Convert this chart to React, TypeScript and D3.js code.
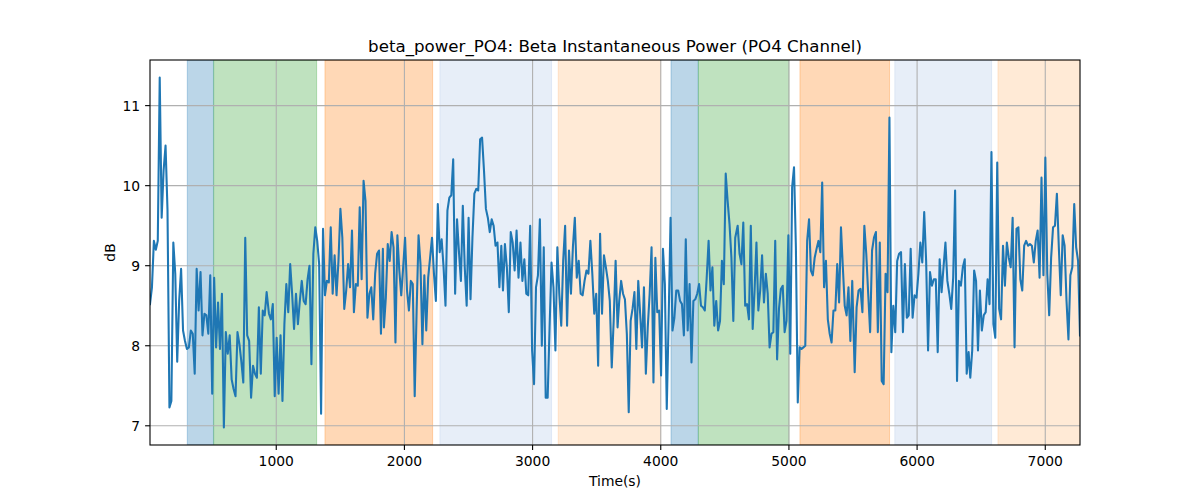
import React from 'react';
import * as d3 from 'd3';

// beta power readings (dB), one array per stretch of the recording
const seg1 = [8.52, 8.73, 9.31, 9.2, 9.31, 11.35, 9.6, 10.19, 10.5, 9.7, 7.23, 7.31, 9.29, 8.9, 7.8, 8.56, 8.96, 8.19, 8.06, 7.96, 7.98, 8.19, 8.15, 7.65, 8.96, 8.44, 8.92, 8.13, 8.4, 8.38, 8.15, 8.88, 7.4, 8.85, 7.98, 8.54, 7.96, 8.65, 6.98, 8.17, 7.9, 8.13, 7.58, 7.46, 7.37, 8.17, 8.02, 7.8, 7.54, 9.35, 8.13, 8.06, 7.35, 7.75, 7.65, 7.6, 8.48, 7.65, 8.44, 8.38, 8.67];
const seg2 = [8.4, 8.33, 8.52, 7.37, 8.1, 7.4, 8.13, 7.31, 8.27, 8.77, 8.42, 9.02, 8.65, 8.21, 8.65, 8.27, 8.56, 8.81, 8.56, 8.52, 8.83, 9.0, 7.77, 9.15, 9.48, 9.31, 9.02, 7.15, 9.46, 8.63, 8.81, 8.79, 9.48, 8.65, 9.13, 8.63, 9.06, 9.71, 9.35, 8.46, 8.69, 9.02, 8.73, 9.44, 8.42, 8.77, 8.75, 9.73, 8.83, 10.06, 9.81, 8.35, 8.65, 8.73, 8.33, 8.9, 9.15, 9.19, 8.15, 9.21];
const seg3 = [8.23, 8.6, 9.27, 9.06, 9.42, 9.23, 8.04, 9.38, 8.94, 8.63, 8.98, 9.35, 8.69, 8.44, 8.81, 8.77, 7.37, 8.44, 9.38, 9.02, 8.02, 8.88, 8.19, 8.85, 9.1, 9.35, 8.9, 8.56, 9.77, 9.17, 9.33, 8.98, 8.5, 9.69, 9.85, 9.88, 10.33, 8.65, 9.58, 9.17, 8.81, 9.75, 8.98, 8.5, 9.6, 8.58, 9.35, 9.9, 9.96, 9.94, 10.58, 10.6, 10.19, 9.71, 9.6, 9.42, 9.58, 9.5, 9.25, 9.29, 8.73, 9.25];
const seg4 = [8.69, 9.27, 8.98, 8.42, 9.42, 9.29, 8.94, 9.44, 8.85, 9.29, 8.81, 9.08, 8.65, 8.63, 9.5, 7.94, 7.52, 8.73, 8.88, 9.58, 8.0, 9.23, 7.35, 7.35, 8.23, 9.04, 8.73, 7.94, 9.23, 8.65, 8.25, 9.06, 9.5, 8.25, 9.19, 8.65, 9.23, 9.6, 8.85, 9.06, 8.65, 8.63, 8.81, 8.94, 8.9, 9.31, 8.9, 8.4, 8.65, 7.75, 9.4, 8.4, 9.13, 8.98, 8.81, 8.56, 7.73, 8.31, 9.06, 8.23];
const seg5 = [8.56, 8.81, 8.65, 8.58, 8.15, 7.17, 8.31, 8.46, 8.67, 7.96, 8.81, 8.4, 7.98, 8.73, 7.65, 8.23, 8.65, 9.23, 7.54, 9.1, 8.42, 8.44, 7.63, 9.21, 8.77, 7.21, 8.35, 9.6, 8.19, 8.35, 8.69, 8.69, 8.56, 8.52, 8.13, 9.33, 8.19, 8.77, 7.79, 8.56, 8.58, 8.65, 8.77, 8.5, 8.48, 8.44, 8.85, 9.31, 8.69, 8.98, 8.25, 8.56, 8.19, 8.31, 9.06, 8.77, 10.15, 9.81, 9.52, 9.1, 8.31, 9.35];
const seg6 = [9.5, 9.15, 9.02, 9.54, 8.5, 8.52, 8.33, 9.5, 8.21, 8.69, 9.29, 8.44, 8.69, 9.13, 8.54, 8.9, 8.65, 7.98, 8.15, 8.17, 9.31, 7.83, 8.46, 8.71, 8.75, 8.17, 8.31, 9.38, 7.9, 9.98, 10.23, 9.23, 7.29, 7.98, 7.96, 7.98, 8.0, 9.31, 9.58, 8.94, 8.88, 9.1, 9.21, 9.31, 9.17, 10.04, 8.73, 9.06, 8.33, 8.15, 8.04, 8.44, 8.44, 9.02, 8.54, 9.48, 8.98, 8.5, 8.38, 8.73, 8.06, 8.81];
const seg7 = [7.67, 8.48, 8.69, 8.71, 8.42, 9.5, 9.15, 8.65, 8.17, 9.19, 9.35, 9.42, 8.17, 9.29, 7.56, 7.52, 8.9, 8.67, 10.85, 7.92, 8.5, 8.17, 9.06, 9.15, 9.17, 8.17, 9.02, 8.35, 8.38, 9.21, 8.35, 8.63, 8.6, 8.9, 9.29, 9.04, 9.67, 9.06, 7.94, 8.92, 8.75, 8.83, 8.83, 7.92, 9.08, 8.67, 8.98, 9.29, 8.81, 8.65, 8.46, 8.85, 9.94, 7.56, 8.81, 8.75, 8.98, 9.08, 7.65, 7.92];
const seg8 = [7.6, 7.94, 8.94, 8.81, 7.94, 8.69, 8.19, 8.38, 8.42, 8.83, 8.52, 10.42, 8.27, 8.1, 10.29, 8.46, 8.33, 9.25, 8.75, 9.29, 9.1, 8.98, 9.6, 7.98, 9.46, 9.48, 8.83, 8.69, 9.25, 9.31, 9.25, 9.27, 9.25, 9.04, 9.31, 9.44, 8.85, 10.1, 8.88, 10.35, 8.9, 8.38, 9.1, 9.48, 9.5, 9.9, 9.23, 8.63, 9.38, 9.25, 8.56, 8.08, 8.88, 8.98, 9.77, 9.23, 9.06, 8.13];

// first and last sample time (s) of each stretch
const segStart = [15, 943, 1840, 2769, 3676, 4600, 5513, 6415];
const segEnd = [925, 1832, 2756, 3663, 4581, 5494, 6402, 7271];

// shaded task periods
const spanStart = [306, 512, 1380, 2277, 3200, 4080, 4294, 5086, 5826, 6631];
const spanEnd = [510, 1315, 2220, 3148, 3999, 4292, 5000, 5785, 6581, 7300];
const spanColor = ['#1f77b4', '#2ca02c', '#ff7f0e', '#aec7e8', '#ffbb78', '#1f77b4', '#2ca02c', '#ff7f0e', '#aec7e8', '#ffbb78'];

const xTicks = [1000, 2000, 3000, 4000, 5000, 6000, 7000];
const yTicks = [7, 8, 9, 10, 11];

const W = 1200;
const H = 500;
const left = 150, right = 1080, top = 60, bottom = 445;
const font = 'DejaVu Sans, sans-serif';

const App: React.FC = () => {
  const x = d3.scaleLinear().domain([15, 7271]).range([left, right]);
  const y = d3.scaleLinear().domain([6.76, 11.57]).range([bottom, top]);

  const segments = [seg1, seg2, seg3, seg4, seg5, seg6, seg7, seg8];
  const points: [number, number][] = segments.flatMap((vals, i) => {
    const step = (segEnd[i] - segStart[i]) / (vals.length - 1);
    return vals.map((v, j) => [segStart[i] + j * step, v] as [number, number]);
  });

  const line = d3.line<[number, number]>().x(d => x(d[0])).y(d => y(d[1]));

  return (
    <div style={{ position: 'absolute', left: 0, top: 0 }}>
      <svg width={W} height={H} style={{ display: 'block', background: '#fff' }}>
        <defs>
          <clipPath id="plot">
            <rect x={left} y={top} width={right - left} height={bottom - top} />
          </clipPath>
        </defs>
        <g clipPath="url(#plot)">
          {spanStart.map((s, i) => (
            <rect key={i} x={x(s)} y={top} width={x(spanEnd[i]) - x(s)} height={bottom - top}
              fill={spanColor[i]} fillOpacity={0.3} stroke={spanColor[i]} strokeOpacity={0.3} strokeWidth={1} />
          ))}
        </g>
        {xTicks.map(t => (
          <line key={'gx' + t} x1={x(t)} x2={x(t)} y1={top} y2={bottom} stroke="#b0b0b0" strokeWidth={1.1} />
        ))}
        {yTicks.map(t => (
          <line key={'gy' + t} x1={left} x2={right} y1={y(t)} y2={y(t)} stroke="#b0b0b0" strokeWidth={1.1} />
        ))}
        <path d={line(points) || ''} fill="none" stroke="#1f77b4" strokeWidth={2.08}
          strokeLinejoin="round" strokeLinecap="square" clipPath="url(#plot)" />
        <rect x={left} y={top} width={right - left} height={bottom - top} fill="none" stroke="#000" strokeWidth={1.1} />
        {xTicks.map(t => (
          <g key={'tx' + t}>
            <line x1={x(t)} x2={x(t)} y1={bottom} y2={bottom + 4.9} stroke="#000" strokeWidth={1.1} />
            <text x={x(t)} y={bottom + 20.5} textAnchor="middle" fontFamily={font} fontSize={13.89} fill="#000">{t}</text>
          </g>
        ))}
        {yTicks.map(t => (
          <g key={'ty' + t}>
            <line x1={left - 4.9} x2={left} y1={y(t)} y2={y(t)} stroke="#000" strokeWidth={1.1} />
            <text x={left - 9.8} y={y(t) + 5} textAnchor="end" fontFamily={font} fontSize={13.89} fill="#000">{t}</text>
          </g>
        ))}
        <text x={(left + right) / 2} y={52} textAnchor="middle" fontFamily={font} fontSize={16.67} fill="#000">
          beta_power_PO4: Beta Instantaneous Power (PO4 Channel)
        </text>
        <text x={(left + right) / 2} y={486} textAnchor="middle" fontFamily={font} fontSize={13.89} fill="#000">Time(s)</text>
        <text transform={`translate(115,${(top + bottom) / 2}) rotate(-90)`} textAnchor="middle" fontFamily={font} fontSize={13.89} fill="#000">dB</text>
      </svg>
    </div>
  );
};

export default App;
